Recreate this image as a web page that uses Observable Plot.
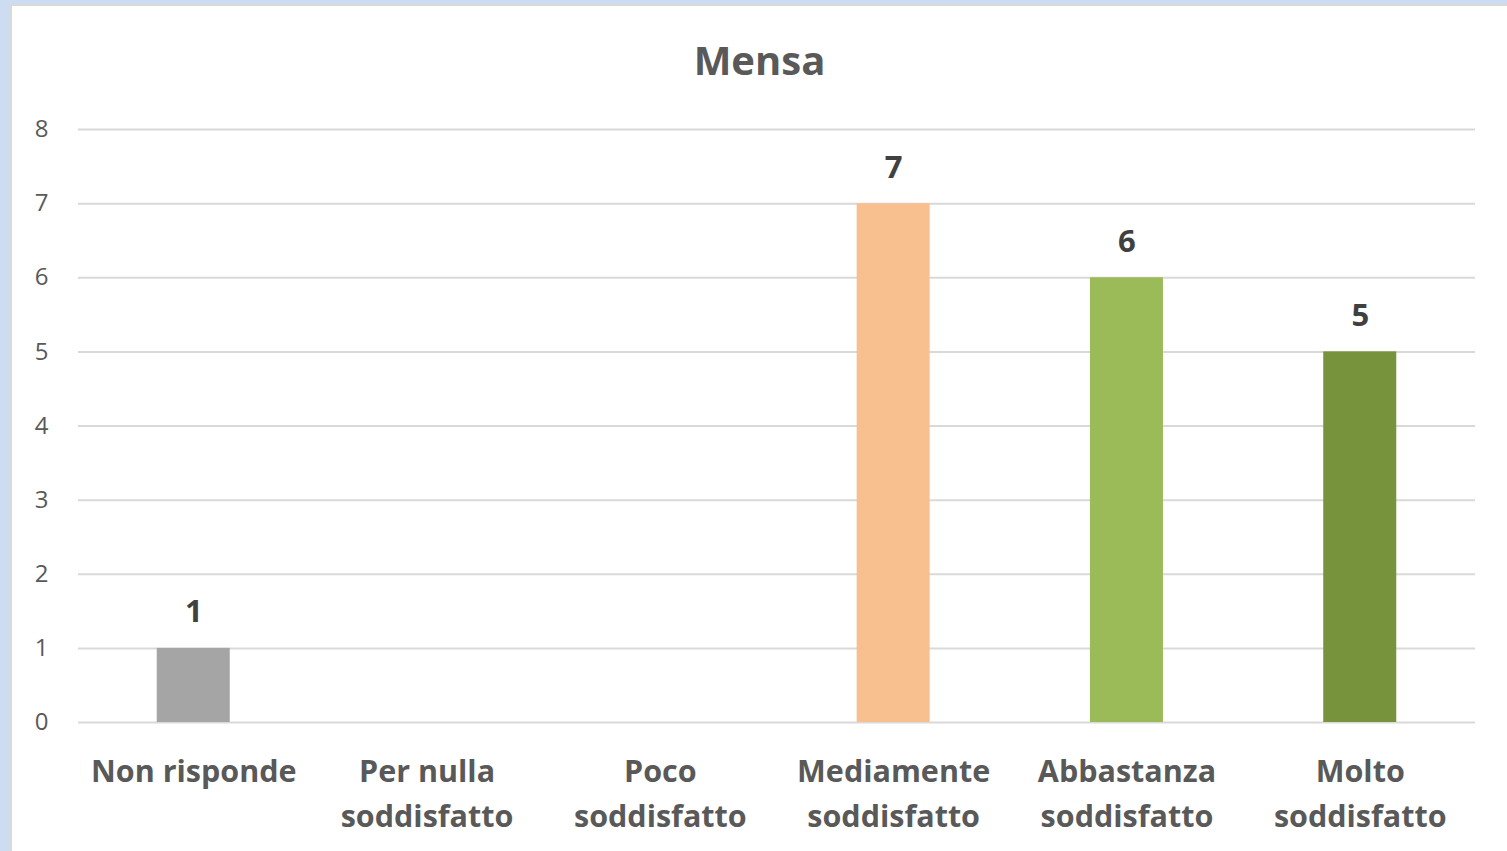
<!DOCTYPE html>
<html>
<head>
<meta charset="utf-8">
<script src="https://cdn.jsdelivr.net/npm/d3@7"></script>
<script src="https://cdn.jsdelivr.net/npm/@observablehq/plot@0.6"></script>
<style>
  html, body { margin: 0; padding: 0; }
  body { width: 1507px; height: 851px; overflow: hidden; background: #cddcf1; font-family: "Open Sans", sans-serif; }
  #frame { position: absolute; left: 10px; top: 4px; width: 1495px; height: 845px; background: #fff; border-left: 2px solid #d9d9d9; border-top: 2px solid #d9d9d9; }
  #title { position: absolute; left: 12px; top: 34px; width: 1495px; text-align: center; font-size: 40px; font-weight: 700; color: #595959; line-height: 52px; }
  #chart { position: absolute; left: 0; top: 90px; }
</style>
</head>
<body>
<div id="frame"></div>
<div id="title">Mensa</div>
<div id="chart"></div>
<script>
const categories = ["Non risponde", "Per nulla\nsoddisfatto", "Poco\nsoddisfatto", "Mediamente\nsoddisfatto", "Abbastanza\nsoddisfatto", "Molto\nsoddisfatto"];
const values = [1, 0, 0, 7, 6, 5];
const colors = ["#a5a5a5", "#4f81bd", "#c0504d", "#f9c08f", "#9bbb59", "#77933c"];
const yTicks = [0, 1, 2, 3, 4, 5, 6, 7, 8];

const data = categories.map((c, i) => ({category: c, value: values[i], color: colors[i]}));

const chart = Plot.plot({
  width: 1507,
  height: 761,
  marginLeft: 78,
  marginRight: 32,
  marginTop: 39,
  marginBottom: 129,
  style: {fontFamily: "'Open Sans', sans-serif", background: "transparent", overflow: "visible"},
  x: {domain: categories, paddingInner: 0.687, paddingOuter: 0.3375, round: false, label: null, axis: null},
  y: {domain: [0, 8], label: null},
  marks: [
    Plot.ruleY(yTicks, {stroke: "#d9d9d9", strokeWidth: 2}),
    Plot.barY(data, {x: "category", y: "value", fill: "color"}),
    Plot.text(data.filter(d => d.value > 0), {x: "category", y: "value", text: d => String(d.value), dy: -36, fontSize: 31, fontWeight: 700, fill: "#404040"}),
    Plot.axisY(yTicks, {tickSize: 0, tickPadding: 30, tickFormat: d3.format("d"), fontSize: 24, fill: "#595959", label: null}),
    Plot.text(categories, {x: d => d, text: d => d, frameAnchor: "bottom", lineAnchor: "top", dy: 27, fontSize: 30.5, fontWeight: 700, fill: "#595959", lineHeight: 1.48})
  ]
});
document.getElementById("chart").appendChild(chart);
</script>
</body>
</html>
